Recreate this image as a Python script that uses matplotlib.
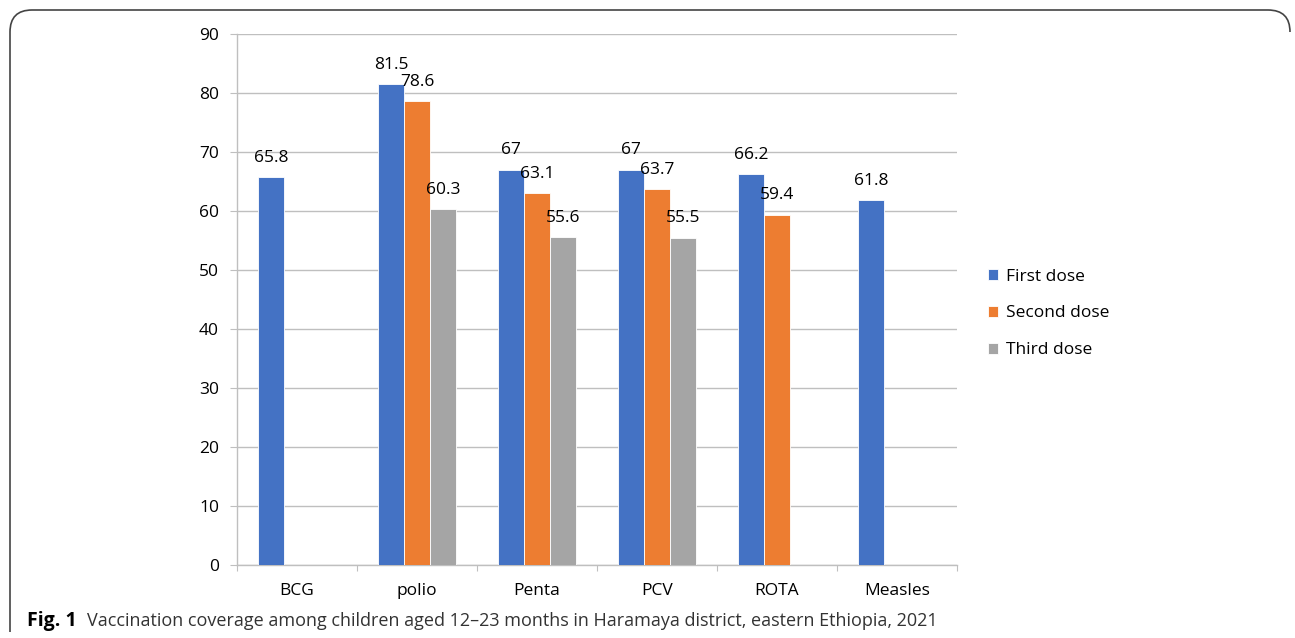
import matplotlib
matplotlib.use("Agg")
import matplotlib.pyplot as plt
import numpy as np
from matplotlib.path import Path
from matplotlib.patches import PathPatch

categories = ["BCG", "polio", "Penta", "PCV", "ROTA", "Measles"]
first_dose = [65.8, 81.5, 67, 67, 66.2, 61.8]
second_dose = [None, 78.6, 63.1, 63.7, 59.4, None]
third_dose = [None, 60.3, 55.6, 55.5, None, None]
series_names = ["First dose", "Second dose", "Third dose"]
colors = ["#4472C4", "#ED7D31", "#A5A5A5"]
yticks = [0, 10, 20, 30, 40, 50, 60, 70, 80, 90]

font = "Open Sans"
fs = 12.5
fig = plt.figure(figsize=(12.95, 6.38), dpi=100)
W, H = 1295, 638
ax = fig.add_axes([237 / W, (638 - 565) / H, (957 - 237) / W, (565 - 34) / H])

x = np.arange(len(categories))
bw = 0.217
offsets = [-bw, 0, bw]
series = [first_dose, second_dose, third_dose]
for s, (vals, name, col, off) in enumerate(zip(series, series_names, colors, offsets)):
    xs = [xi + off for xi, v in zip(x, vals) if v is not None]
    vs = [v for v in vals if v is not None]
    ax.bar(xs, vs, width=bw, color=col, edgecolor="white", linewidth=0.6, label=name, zorder=3)
    for xi, v in zip(xs, vs):
        lbl = f"{v:g}"
        ax.text(xi, v + 1.9, lbl, ha="center", va="bottom", fontsize=fs, family=font, color="#000000", zorder=4)

ax.set_xlim(-0.5, len(categories) - 0.5)
ax.set_ylim(0, 90)
ax.set_yticks(yticks)
ax.set_yticklabels([str(t) for t in yticks], family=font, fontsize=fs)
ax.yaxis.grid(True, color="#BFBFBF", linewidth=1, zorder=0)
ax.set_axisbelow(True)
ax.tick_params(axis="y", length=5, color="#BFBFBF", pad=8)

ax.set_xticks(np.arange(len(categories) + 1) - 0.5)
ax.set_xticklabels([])
ax.set_xticks(x, minor=True)
ax.set_xticklabels(categories, minor=True, family=font, fontsize=fs)
ax.tick_params(axis="x", which="major", length=4.5, color="#BFBFBF")
ax.tick_params(axis="x", which="minor", length=0, pad=13)

for sp in ["top", "right"]:
    ax.spines[sp].set_visible(False)
for sp in ["left", "bottom"]:
    ax.spines[sp].set_color("#BFBFBF")
    ax.spines[sp].set_linewidth(1)

leg = fig.legend(loc="upper left", bbox_to_anchor=(972 / W, (638 - 253) / H), frameon=False,
                 prop={"family": font, "size": fs}, handlelength=0.6, handleheight=0.6,
                 handletextpad=0.45, labelspacing=1.2)

# caption
fig.text(27 / W, (638 - 626) / H, "Fig. 1", family=font, fontweight="bold",
         fontsize=14, va="baseline", ha="left")
fig.text(87 / W, (638 - 626) / H,
         "Vaccination coverage among children aged 12\u201323 months in Haramaya district, eastern Ethiopia, 2021",
         family=font, fontsize=13.0, va="baseline", ha="left", color="#333333")

# frame (rounded, open at bottom)
r = 22
verts = [(10, 632), (10, 10 + r), (10, 10), (10 + r, 10), (1290 - r, 10), (1290, 10), (1290, 10 + r)]
codes = [Path.MOVETO, Path.LINETO, Path.CURVE3, Path.CURVE3, Path.LINETO, Path.CURVE3, Path.CURVE3]
verts_fig = [(vx / W, 1 - vy / H) for vx, vy in verts]
fig.patches.append(PathPatch(Path(verts_fig, codes), transform=fig.transFigure, fill=False,
                             edgecolor="#444444", linewidth=1.2))

fig.savefig("out.png", dpi=100)
